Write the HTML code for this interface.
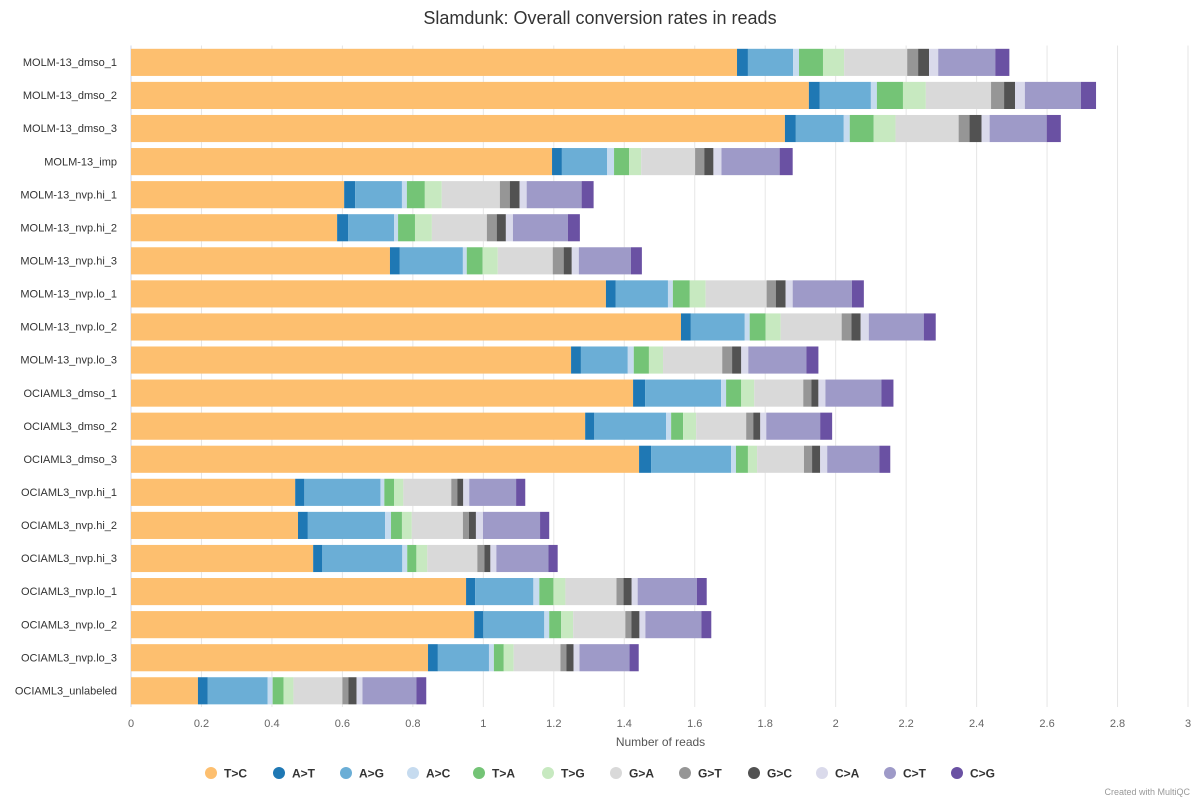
<!DOCTYPE html>
<html><head><meta charset="utf-8"><style>
body{margin:0;background:#fff;font-family:"Liberation Sans",sans-serif;}
svg text{font-family:"Liberation Sans",sans-serif;}
</style></head><body>
<svg id="c" width="1200" height="800"></svg>
<script>
const categories=["MOLM-13_dmso_1","MOLM-13_dmso_2","MOLM-13_dmso_3","MOLM-13_imp","MOLM-13_nvp.hi_1","MOLM-13_nvp.hi_2","MOLM-13_nvp.hi_3","MOLM-13_nvp.lo_1","MOLM-13_nvp.lo_2","MOLM-13_nvp.lo_3","OCIAML3_dmso_1","OCIAML3_dmso_2","OCIAML3_dmso_3","OCIAML3_nvp.hi_1","OCIAML3_nvp.hi_2","OCIAML3_nvp.hi_3","OCIAML3_nvp.lo_1","OCIAML3_nvp.lo_2","OCIAML3_nvp.lo_3","OCIAML3_unlabeled"];
const seriesNames=["T>C","A>T","A>G","A>C","T>A","T>G","G>A","G>T","G>C","C>A","C>T","C>G"];
const seriesColors=["#fdbf6f","#1f78b4","#6baed6","#c6dbef","#74c476","#c7e9c0","#d9d9d9","#969696","#525252","#dadaeb","#9e9ac8","#6a51a3"];
const TC=[1.720,1.924,1.856,1.195,0.605,0.585,0.735,1.348,1.561,1.249,1.425,1.289,1.442,0.466,0.474,0.517,0.951,0.974,0.843,0.190];
const AT=[0.031,0.031,0.031,0.028,0.031,0.031,0.028,0.028,0.028,0.028,0.034,0.026,0.034,0.026,0.028,0.026,0.026,0.026,0.028,0.028];
const AG=[0.128,0.145,0.136,0.128,0.133,0.131,0.179,0.148,0.153,0.133,0.216,0.204,0.227,0.216,0.219,0.227,0.165,0.173,0.145,0.170];
const AC=[0.017,0.017,0.017,0.020,0.014,0.011,0.011,0.014,0.014,0.017,0.014,0.014,0.014,0.011,0.017,0.014,0.017,0.014,0.014,0.014];
const TA=[0.068,0.074,0.068,0.043,0.051,0.048,0.045,0.048,0.045,0.043,0.043,0.034,0.034,0.028,0.031,0.026,0.040,0.034,0.028,0.031];
const TG=[0.060,0.065,0.062,0.034,0.048,0.048,0.043,0.045,0.043,0.040,0.037,0.037,0.026,0.026,0.028,0.031,0.034,0.034,0.028,0.028];
const GA=[0.179,0.185,0.179,0.153,0.165,0.156,0.156,0.173,0.173,0.168,0.139,0.142,0.133,0.136,0.145,0.142,0.145,0.148,0.133,0.139];
const GT=[0.031,0.037,0.031,0.026,0.028,0.028,0.031,0.026,0.028,0.028,0.023,0.020,0.023,0.017,0.017,0.020,0.020,0.017,0.017,0.017];
const GC=[0.031,0.031,0.034,0.026,0.028,0.026,0.023,0.028,0.026,0.026,0.020,0.020,0.023,0.017,0.020,0.017,0.023,0.023,0.020,0.023];
const CA=[0.026,0.028,0.023,0.023,0.020,0.020,0.020,0.020,0.023,0.020,0.020,0.017,0.020,0.017,0.020,0.017,0.017,0.017,0.017,0.017];
const CT=[0.162,0.159,0.162,0.165,0.156,0.156,0.148,0.168,0.156,0.165,0.159,0.153,0.148,0.133,0.162,0.148,0.168,0.159,0.142,0.153];
const CG=[0.040,0.043,0.040,0.037,0.034,0.034,0.031,0.034,0.034,0.034,0.034,0.034,0.031,0.026,0.026,0.026,0.028,0.028,0.026,0.028];
const xTicks=[0,0.2,0.4,0.6,0.8,1,1.2,1.4,1.6,1.8,2,2.2,2.4,2.6,2.8,3];
const seriesData=[TC,AT,AG,AC,TA,TG,GA,GT,GC,CA,CT,CG];

const NS="http://www.w3.org/2000/svg";
const svg=document.getElementById('c');
const L=131,R=1188,T=45.5,B=707,xMax=3;
const xs=v=>L+v/xMax*(R-L);
const band=(B-T)/categories.length;
const ys=i=>T+i*band;
function mk(tag,attrs,parent){const e=document.createElementNS(NS,tag);for(const k in attrs)e.setAttribute(k,attrs[k]);(parent||svg).appendChild(e);return e;}

const title=mk('text',{x:600,y:24,'text-anchor':'middle','font-size':18,fill:'#333'});
title.textContent='Slamdunk: Overall conversion rates in reads';



const grid=mk('g',{});


xTicks.forEach(t=>{
  const l=mk('line',{x1:xs(t),x2:xs(t),y1:T,y2:B,stroke:'#e6e6e6','stroke-width':1},grid);
  
  
  const tx=mk('text',{x:xs(t),y:727,'text-anchor':'middle','font-size':11,fill:'#666'});
  tx.textContent=String(t);
  
  
});
mk('line',{x1:L,x2:L,y1:T,y2:B,stroke:'#ccd6eb'});

const bars=mk('g',{});


categories.forEach((c,i)=>{
  let acc=0;
  const y=ys(i)+band*0.1, h=band*0.82;
  seriesData.forEach((arr,s)=>{
    const v=arr[i];
    const r=mk('rect',{x:xs(acc),y:y,width:Math.max(0,xs(acc+v)-xs(acc)),height:h,fill:seriesColors[s]},bars);
    
    
    acc+=v;
  });
  const lab=mk('text',{x:117,y:ys(i)+band/2+4,'text-anchor':'end','font-size':11,fill:'#333'});
  lab.textContent=c;
  
  
});

const xt=mk('text',{x:(L+R)/2+1,y:746,'text-anchor':'middle','font-size':12,fill:'#555'});
xt.textContent='Number of reads';



const legX=[211,279,346,413,479,548,616,685,754,822,890,957];
const leg=mk('g',{});


seriesNames.forEach((n,s)=>{
  const g=mk('g',{},leg);
  
  
  mk('circle',{cx:legX[s],cy:773,r:6,fill:seriesColors[s]},g);
  const t=mk('text',{x:legX[s]+13,y:777.5,'font-size':12,'font-weight':'bold',fill:'#333'},g);
  t.textContent=n;
});
const cr=mk('text',{x:1190,y:795,'text-anchor':'end','font-size':9,fill:'#999'});
cr.textContent='Created with MultiQC';


</script>
</body></html>
